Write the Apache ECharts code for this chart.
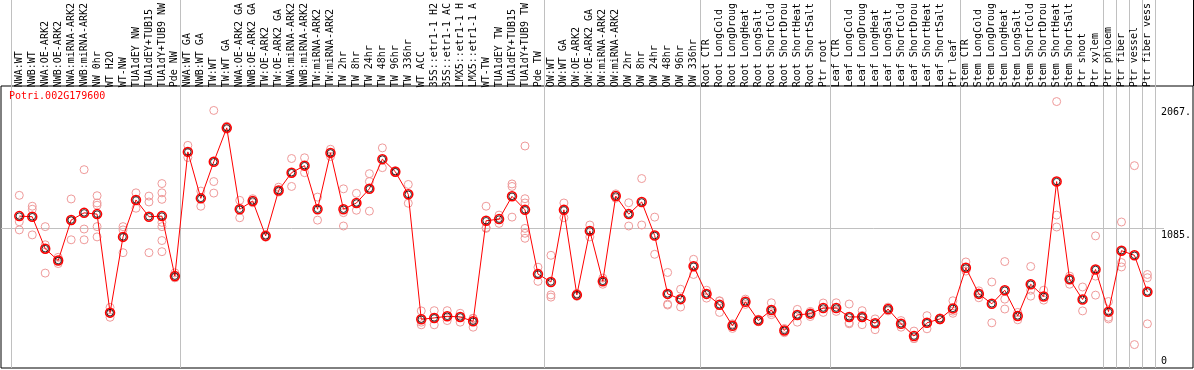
<!DOCTYPE html>
<html><head><meta charset="utf-8">
<script src="https://cdn.jsdelivr.net/npm/echarts@6/dist/echarts.min.js"></script>
<style>html,body{margin:0;padding:0;background:#fff}#c{width:1194px;height:370px}</style>
</head><body><div id="c"></div><script>
const geneTitle = 'Potri.002G179600';
const categories = [
 'NWA:WT','NWB:WT','NWA:OE-ARK2','NWB:OE-ARK2','NWA:miRNA-ARK2','NWB:miRNA-ARK2','NW 0hr','WT H2O','WT-NW','TUA1dEY NW','TUA1dEY+TUB15','TUA1dY+TUB9 NW','Pde NW',
 'NWA:WT GA','NWB:WT GA','TW:WT','TW:WT GA','NWA:OE-ARK2 GA','NWB:OE-ARK2 GA','TW:OE-ARK2','TW:OE-ARK2 GA','NWA:miRNA-ARK2','NWB:miRNA-ARK2','TW:miRNA-ARK2','TW:miRNA-ARK2','TW 2hr','TW 8hr','TW 24hr','TW 48hr','TW 96hr','TW 336hr','WT ACC','35S::etr1-1 H2','35S::etr1-1 AC','LMX5::etr1-1 H','LMX5::etr1-1 A','WT-TW','TUA1dEY TW','TUA1dEY+TUB15','TUA1dY+TUB9 TW','Pde TW',
 'OW:WT','OW:WT GA','OW:OE-ARK2','OW:OE-ARK2 GA','OW:miRNA-ARK2','OW:miRNA-ARK2','OW 2hr','OW 8hr','OW 24hr','OW 48hr','OW 96hr','OW 336hr',
 'Root CTR','Root LongCold','Root LongDroug','Root LongHeat','Root LongSalt','Root ShortCold','Root ShortDrou','Root ShortHeat','Root ShortSalt','Ptr root',
 'Leaf CTR','Leaf LongCold','Leaf LongDroug','Leaf LongHeat','Leaf LongSalt','Leaf ShortCold','Leaf ShortDrou','Leaf ShortHeat','Leaf ShortSalt','Ptr leaf',
 'Stem CTR','Stem LongCold','Stem LongDroug','Stem LongHeat','Stem LongSalt','Stem ShortCold','Stem ShortDrou','Stem ShortHeat','Stem ShortSalt','Ptr shoot','Ptr xylem',
 'Ptr phloem','Ptr fiber','Ptr vessel','Ptr fiber vess'
];
const groupStarts = [0,13,41,53,63,73,84,85,86,87];
const means = [
 1197,1192,937,842,1166,1223,1213,426,1031,1326,1192,1197,718,
 1710,1339,1631,1902,1252,1318,1039,1402,1544,1600,1252,1702,1252,1302,1415,1652,1552,1371,373,384,397,392,357,1160,1173,1355,1247,734,
 671,1247,568,1079,676,1357,1213,1310,1042,576,534,797,
 576,489,321,513,363,447,284,408,418,463,
 463,392,392,342,455,337,239,345,376,460,
 784,576,497,605,400,653,555,1473,692,531,771,
 434,921,884,592
];
const replicates = [
 [1363,1152,1087],[1276,1252,1047],[1113,968,742],[868,840,818],[1334,1008,1160],[1568,1094,1008],[1360,1302,1284,1113,1031],[468,421,389],[1113,1087,905],[1383,1260],[1357,1310,905],[1457,1383,1331,1147,1113,1002,913],[744,705,705],
 [1762,1665],[1397,1276],[2041,1473,1381],[1915,1890],[1323,1184],[1336,1304],[1050,1028],[1428,1389],[1657,1434],[1663,1544],[1349,1165],[1731,1673],[1415,1225,1118],[1379,1244],[1536,1473,1237],[1742,1584],[1560,1545],[1450,1300],[440,329,350],[442,329],[442,363],[421,350],[381,310,380],[1276,1099,1105],[1205,1139],[1454,1434,1189],[1757,1336,1302,1099,1060,1020],[789,676],
 [884,568,550],[1302,1184],[580,556],[1126,1031],[702,653],[1375,1340],[1304,1118],[1497,1126],[1189,892],[747,487,494],[613,471],[852,731],
 [605,542],[521,428,518],[337,300],[534,492],[373,353],[505,410,426],[300,266],[452,350],[436,395],[503,428],
 [505,436],[495,337,345],[442,330,404],[376,290],[470,440],[363,310],[279,219,219],[402,297],[385,368],[521,421,438],
 [831,758],[600,545,583],[671,345],[834,534,455],[428,369],[795,605,558],[605,526],[2112,1205,1110],[718,653],[631,440],[1039,718,566],
 [515,389,376],[1150,826,791],[1600,171],[731,705,337]
];
const yLabelValues = [1085, 2067];
const yZeroValue = [0];

const FONT = 'DejaVu Sans Mono';
const repData = [];
replicates.forEach((arr, i) => arr.forEach(v => repData.push([i, v])));

const chart = echarts.init(document.getElementById('c'), null, {renderer: 'canvas'});
const labelStyle = {fontFamily: FONT, fontSize: 10, color: '#000'};
chart.setOption({
  animation: false,
  backgroundColor: '#fff',
  title: {text: geneTitle, left: 9, top: 91, padding: 0,
    textStyle: {color: '#ff0000', fontFamily: FONT, fontSize: 10, fontWeight: 'normal'}},
  graphic: [{type: 'line', shape: {x1: 1193.5, y1: 0, x2: 1193.5, y2: 86}, style: {stroke: '#000', lineWidth: 1}}],
  grid: [
    {left: 11, right: 39, top: 0, bottom: 2},
    {left: 12.8, right: 37.2, top: 91, bottom: 4},
    {left: 1, right: 1, top: 86, bottom: 2, show: true, borderColor: '#000', borderWidth: 1, backgroundColor: 'transparent'},
    {left: 1, right: 30, top: 91, bottom: 4}
  ],
  xAxis: [
    {gridIndex: 0, type: 'category', data: categories, boundaryGap: true,
      axisLine: {show: false}, axisTick: {show: false}, axisLabel: {show: false},
      splitLine: {show: true, interval: (i) => groupStarts.indexOf(i) >= 0, lineStyle: {color: '#c0c0c0', width: 1}}},
    {gridIndex: 1, type: 'category', data: categories, position: 'top', offset: 5, boundaryGap: true,
      axisLine: {show: false}, axisTick: {show: false}, splitLine: {show: false},
      axisLabel: Object.assign({interval: 0, rotate: 90, margin: 2}, labelStyle)},
    {gridIndex: 2, type: 'value', show: false},
    {gridIndex: 3, type: 'value', show: false}
  ],
  yAxis: [
    {gridIndex: 0, type: 'value', show: false},
    {gridIndex: 1, type: 'value', min: 0, max: 2170, interval: 1085, position: 'right',
      axisLine: {show: false}, axisTick: {show: false}, splitLine: {show: false},
      axisLabel: Object.assign({customValues: yLabelValues, formatter: v => v + '.', verticalAlign: 'top', margin: 7}, labelStyle)},
    {gridIndex: 1, type: 'value', min: 0, max: 2170, interval: 1085, position: 'right',
      axisLine: {show: false}, axisTick: {show: false}, splitLine: {show: false},
      axisLabel: Object.assign({customValues: yZeroValue, formatter: v => String(v), verticalAlign: 'bottom', margin: 7}, labelStyle)},
    {gridIndex: 2, type: 'value', show: false},
    {gridIndex: 3, type: 'value', min: 0, max: 2170, interval: 1085,
      axisLine: {show: false}, axisTick: {show: false}, axisLabel: {show: false},
      splitLine: {show: true, showMinLine: false, showMaxLine: false, lineStyle: {color: '#c0c0c0', width: 1}}}
  ],
  series: [
    {type: 'scatter', xAxisIndex: 1, yAxisIndex: 1, data: repData, symbol: 'circle', symbolSize: 8, silent: true, z: 2,
      itemStyle: {color: 'rgba(0,0,0,0)', borderColor: '#ef9a9a', borderWidth: 1, opacity: 1}},
    {type: 'line', xAxisIndex: 1, yAxisIndex: 1, data: means, symbol: 'circle', symbolSize: 9, showAllSymbol: true, silent: true, z: 3,
      lineStyle: {color: '#ff0000', width: 1},
      itemStyle: {color: 'rgba(0,0,0,0)', borderColor: '#ff0000', borderWidth: 1.5}},
    {type: 'scatter', xAxisIndex: 1, yAxisIndex: 1, data: means, symbol: 'circle', symbolSize: 6.5, silent: true, z: 4,
      itemStyle: {color: 'rgba(0,0,0,0)', borderColor: '#000', borderWidth: 0.8, opacity: 1}}
  ]
});
</script></body></html>
